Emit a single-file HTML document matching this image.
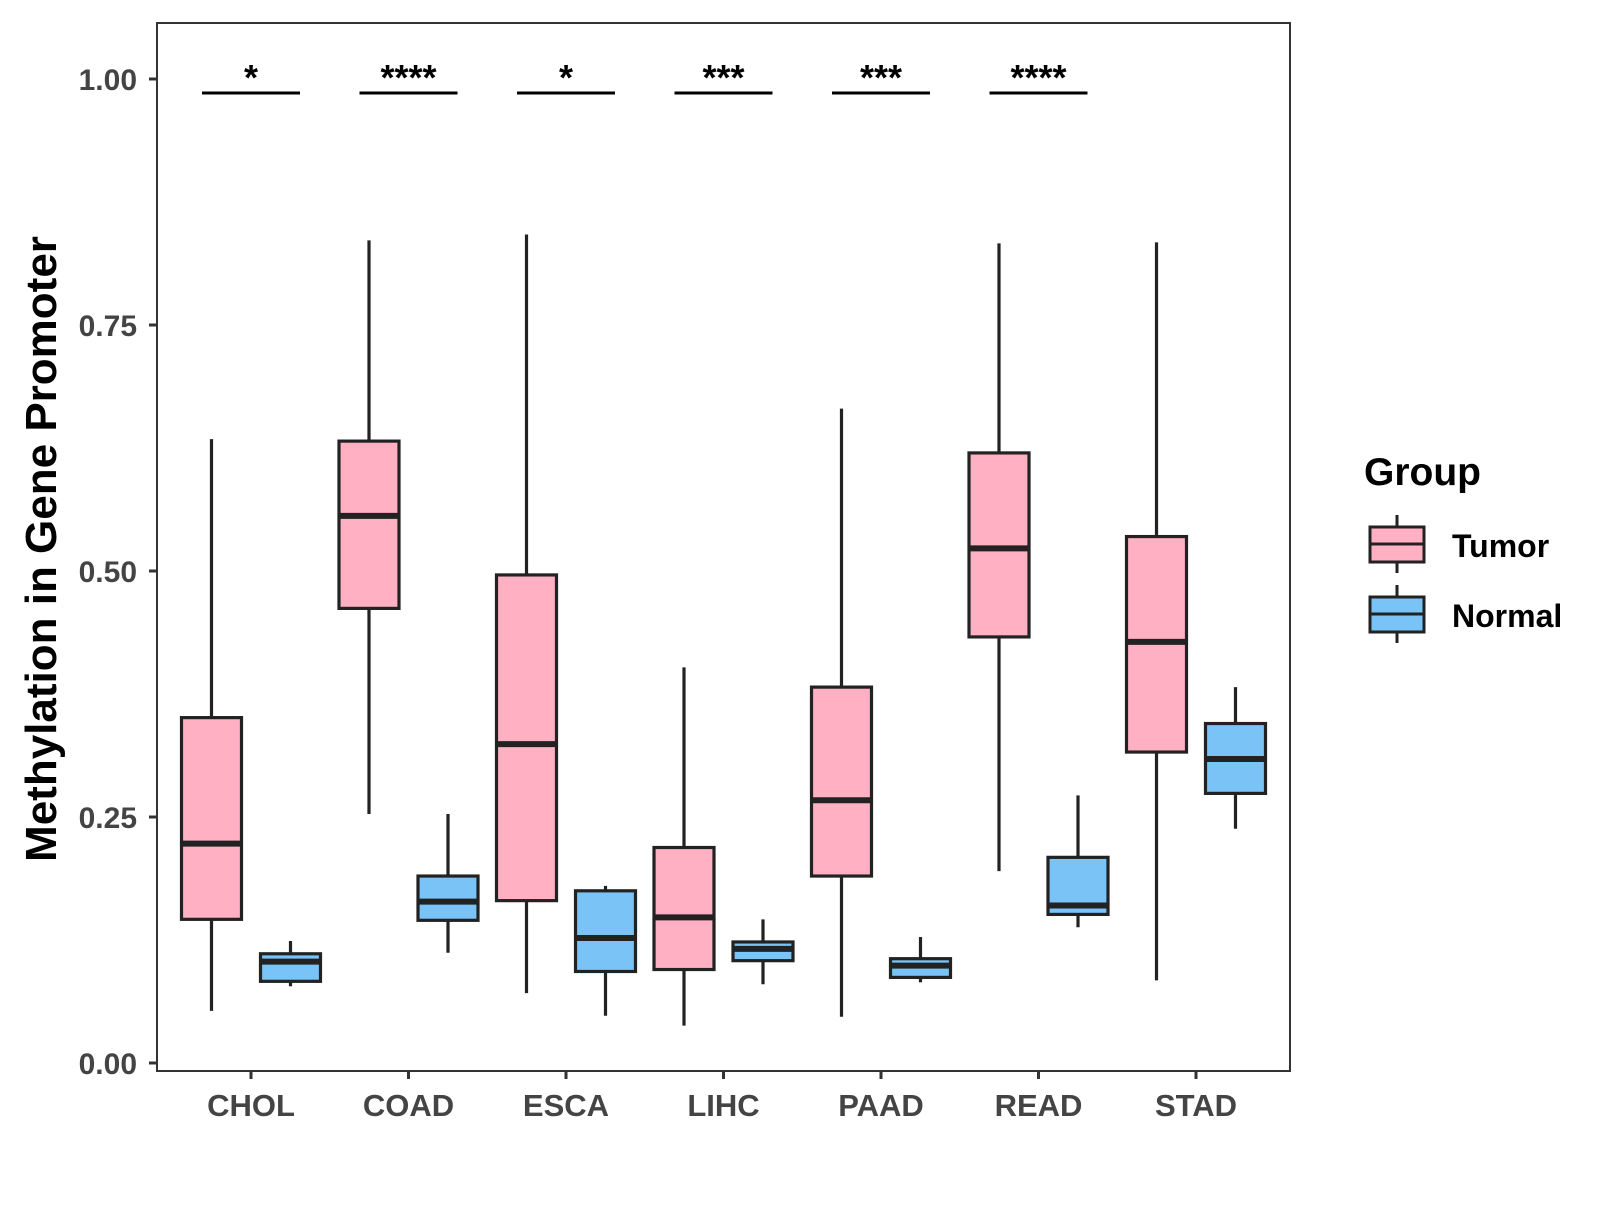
<!DOCTYPE html>
<html><head><meta charset="utf-8"><style>
body{margin:0;background:#fff}
svg text{font-family:"Liberation Sans",Arial,sans-serif;font-weight:bold}
</style></head><body>
<svg id="chart" width="1600" height="1200" viewBox="0 0 1600 1200" xmlns="http://www.w3.org/2000/svg">
<rect x="157" y="23" width="1133" height="1048" fill="#fff" stroke="#333" stroke-width="2"/>
<g id="marks"></g>
<text transform="translate(56,549) rotate(-90)" text-anchor="middle" font-size="44" fill="#000">Methylation in Gene Promoter</text>
<g>
<text x="1364" y="485" font-size="39" fill="#000">Group</text>
<g>
<line x1="1397" y1="515" x2="1397" y2="573" stroke="#222" stroke-width="3"/>
<rect x="1370" y="527" width="54" height="35" fill="#FFB0C2" stroke="#222" stroke-width="3"/>
<line x1="1370" y1="544" x2="1424" y2="544" stroke="#222" stroke-width="3"/>
<text x="1452" y="557" font-size="32" fill="#000">Tumor</text></g>
<g>
<line x1="1397" y1="585" x2="1397" y2="643" stroke="#222" stroke-width="3"/>
<rect x="1370" y="597" width="54" height="35" fill="#79C3F7" stroke="#222" stroke-width="3"/>
<line x1="1370" y1="614" x2="1424" y2="614" stroke="#222" stroke-width="3"/>
<text x="1452" y="627" font-size="32" fill="#000">Normal</text></g>
</g>
</svg>
<script>
const categories=["CHOL","COAD","ESCA","LIHC","PAAD","READ","STAD"];
// [upper whisker, q3, median, q1, lower whisker]
const tumorStats=[[0.634,0.351,0.223,0.146,0.053],[0.836,0.632,0.556,0.462,0.253],[0.842,0.496,0.324,0.165,0.071],[0.402,0.219,0.148,0.095,0.038],[0.665,0.382,0.267,0.190,0.047],[0.833,0.620,0.523,0.433,0.195],[0.834,0.535,0.428,0.316,0.084]];
const normalStats=[[0.124,0.111,0.103,0.083,0.078],[0.253,0.190,0.164,0.145,0.112],[0.180,0.175,0.127,0.093,0.048],[0.146,0.123,0.116,0.104,0.080],[0.128,0.106,0.099,0.087,0.082],[0.272,0.209,0.160,0.151,0.138],[0.382,0.345,0.309,0.274,0.238]];
const significance=["*","****","*","***","***","****",""];
const yTicks=[0,0.25,0.5,0.75,1.0];
const yTickLabels=["0.00","0.25","0.50","0.75","1.00"];

const NS="http://www.w3.org/2000/svg";
const g=document.getElementById('marks');
const y=v=>1063-984*v;
const x=i=>251+157.5*i;
function el(t,a,p){const e=document.createElementNS(NS,t);for(const k in a)e.setAttribute(k,a[k]);(p||g).appendChild(e);return e;}
yTicks.forEach((v,i)=>{
  const t=el('line',{x1:149,x2:157,y1:y(v),y2:y(v),stroke:'#333','stroke-width':3});
  
  
  const l=el('text',{x:137,y:y(v)+11,'text-anchor':'end','font-size':30,fill:'#444'});
  l.textContent=yTickLabels[i];
  
  
});
categories.forEach((c,i)=>{
  const t=el('line',{x1:x(i),x2:x(i),y1:1071,y2:1079,stroke:'#333','stroke-width':3});
  
  
  const l=el('text',{x:x(i),y:1116,'text-anchor':'middle','font-size':31,fill:'#444'});
  l.textContent=c;
  
  
  [[tumorStats[i],-39.5,'#FFB0C2','tumor'],[normalStats[i],39.5,'#79C3F7','normal']].forEach(([s,off,col,nm])=>{
    const cx=x(i)+off, w=60;
    const bg=el('g',{});
    
    
    el('line',{x1:cx,x2:cx,y1:y(s[0]),y2:y(s[4]),stroke:'#222','stroke-width':3.2},bg);
    el('rect',{x:cx-w/2,y:y(s[1]),width:w,height:y(s[3])-y(s[1]),fill:col,stroke:'#222','stroke-width':3.2},bg);
    el('line',{x1:cx-w/2,x2:cx+w/2,y1:y(s[2]),y2:y(s[2]),stroke:'#222','stroke-width':6},bg);
  });
  if(significance[i]){
    const sg=el('g',{});
    
    
    el('line',{x1:x(i)-49,x2:x(i)+49,y1:93,y2:93,stroke:'#000','stroke-width':3},sg);
    const st=el('text',{x:x(i),y:90,'text-anchor':'middle','font-size':36,fill:'#000'},sg);
    st.textContent=significance[i];
  }
});
</script>
</body></html>
